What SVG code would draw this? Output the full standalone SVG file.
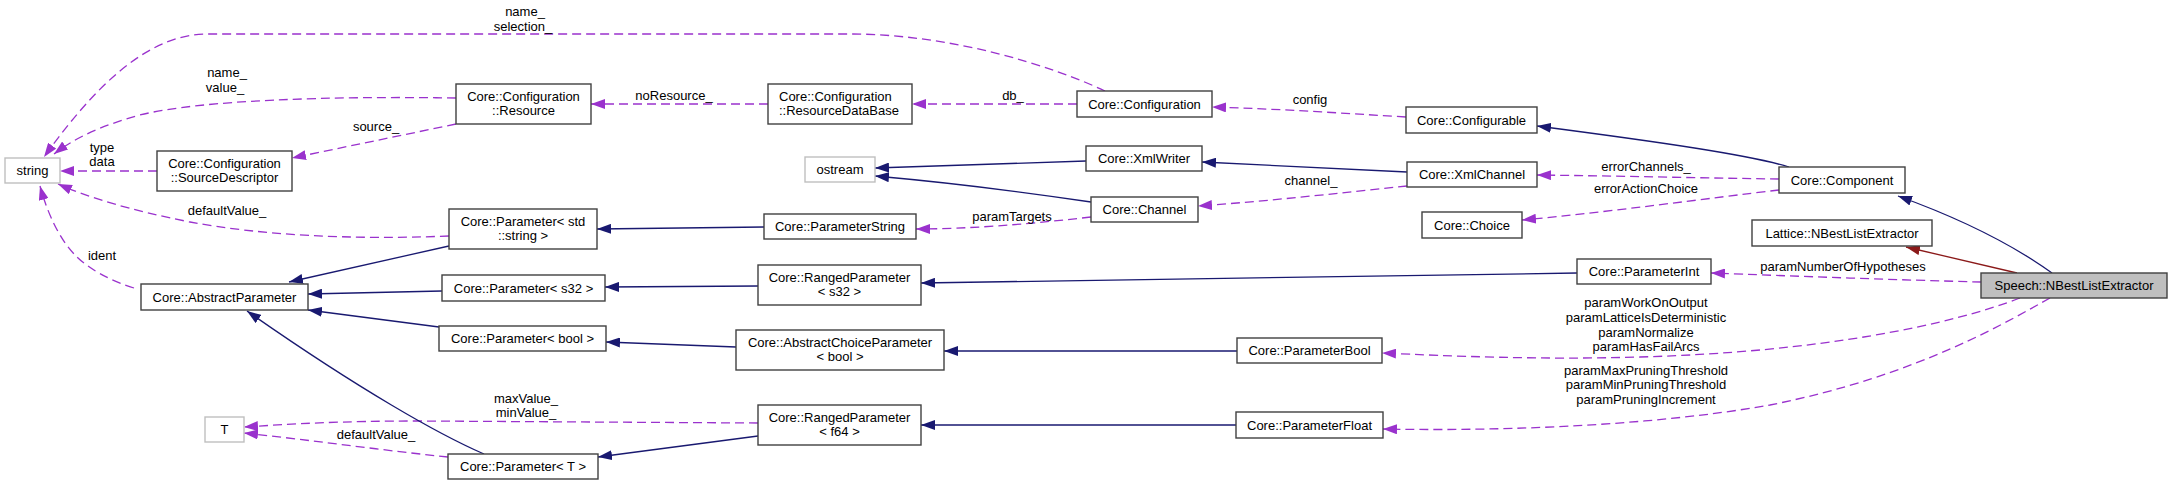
<svg xmlns="http://www.w3.org/2000/svg" width="2172" height="485" viewBox="0 0 2172 485">
<style>
text{font-family:"Liberation Sans",Arial,sans-serif;font-size:13px;fill:#000;text-anchor:middle}
.n rect{fill:#fff;stroke:#404040;stroke-width:1.4}
.g rect{fill:#fff;stroke:#bfbfbf;stroke-width:1.4}
.s rect{fill:#bfbfbf;stroke:#404040;stroke-width:1.4}
.u{fill:none;stroke:#9a32cd;stroke-width:1.3;stroke-dasharray:9,5;marker-end:url(#ap)}
.i{fill:none;stroke:#191970;stroke-width:1.3;marker-end:url(#ab)}
.r{fill:none;stroke:#8b1a1a;stroke-width:1.3;marker-end:url(#ar)}
</style>
<defs>
<marker id="ap" markerUnits="userSpaceOnUse" viewBox="0 0 14 10" refX="14" refY="5" markerWidth="14" markerHeight="10" orient="auto"><path d="M0,0L14,5L0,10z" fill="#9a32cd"/></marker>
<marker id="ab" markerUnits="userSpaceOnUse" viewBox="0 0 14 10" refX="14" refY="5" markerWidth="14" markerHeight="10" orient="auto"><path d="M0,0L14,5L0,10z" fill="#191970"/></marker>
<marker id="ar" markerUnits="userSpaceOnUse" viewBox="0 0 14 10" refX="14" refY="5" markerWidth="14" markerHeight="10" orient="auto"><path d="M0,0L14,5L0,10z" fill="#8b1a1a"/></marker>
</defs>
<rect width="2172" height="485" fill="#fff"/>
<g id="connectors">
<path class="u" d="M1105,91 C1050,65 950,34 850,34 L204,34 C140,36 85,100 44,157"/>
<path class="u" d="M456,98 C330,96 200,100 140,115 C100,126 75,138 54,154"/>
<path class="u" d="M456,124 L292,158"/>
<path class="u" d="M157,171 L60,171"/>
<path class="u" d="M449,236 C350,240 260,235 190,222 C130,210 90,198 58,184"/>
<path class="u" d="M134,288 C108,280 88,268 76,256 C60,240 48,215 40,186"/>
<path class="u" d="M768,104 L591,104"/>
<path class="u" d="M1077,104 L912,104"/>
<path class="u" d="M1406,117 C1340,113 1280,109 1212,107"/>
<path class="u" d="M1407,186 C1340,193 1270,201 1198,206"/>
<path class="u" d="M1091,217 C1030,224 970,229 916,229"/>
<path class="u" d="M1779,179 C1700,178 1620,176 1537,175"/>
<path class="u" d="M1779,190 C1710,198 1610,212 1522,220"/>
<path class="u" d="M1981,282 C1900,280 1790,276 1711,273"/>
<path class="u" d="M2020,298 C1950,325 1820,352 1640,357 C1540,360 1450,356 1382,353"/>
<path class="u" d="M2050,298 C2010,320 1920,375 1770,405 C1640,428 1480,431 1383,429"/>
<path class="u" d="M758,423 L420,421 C340,421 290,424 244,427"/>
<path class="u" d="M448,457 C380,450 310,440 244,433"/>
<path class="i" d="M449,246 L289,282"/>
<path class="i" d="M442,291 L308,294"/>
<path class="i" d="M439,327 L308,310"/>
<path class="i" d="M484,454 C440,435 360,390 247,311"/>
<path class="i" d="M764,227 L597,229"/>
<path class="i" d="M758,286 L605,287"/>
<path class="i" d="M736,347 L606,342"/>
<path class="i" d="M758,436 L598,457"/>
<path class="i" d="M1086,161 L875,168"/>
<path class="i" d="M1091,202 C1010,190 920,180 875,176"/>
<path class="i" d="M1407,172 L1202,162"/>
<path class="i" d="M1789,167 C1750,155 1660,142 1537,126"/>
<path class="i" d="M1577,273 L921,283"/>
<path class="i" d="M1237,351 L944,351"/>
<path class="i" d="M1236,425 L921,425"/>
<path class="i" d="M2052,273 C2020,250 1970,222 1898,196"/>
<path class="r" d="M2017,273 L1906,247"/>
<text x="525" y="16">name_</text>
<text x="523" y="31">selection_</text>
<text x="227" y="77">name_</text>
<text x="225" y="92">value_</text>
<text x="376" y="131">source_</text>
<text x="102" y="152">type</text>
<text x="102" y="166">data</text>
<text x="227" y="215">defaultValue_</text>
<text x="102" y="260">ident</text>
<text x="674" y="100">noResource_</text>
<text x="1013" y="100">db_</text>
<text x="1310" y="104">config</text>
<text x="1311" y="185">channel_</text>
<text x="1012" y="221">paramTargets</text>
<text x="1646" y="171">errorChannels_</text>
<text x="1646" y="193">errorActionChoice</text>
<text x="1843" y="271">paramNumberOfHypotheses</text>
<text x="1646" y="307">paramWorkOnOutput</text>
<text x="1646" y="322">paramLatticeIsDeterministic</text>
<text x="1646" y="337">paramNormalize</text>
<text x="1646" y="351">paramHasFailArcs</text>
<text x="1646" y="375">paramMaxPruningThreshold</text>
<text x="1646" y="389">paramMinPruningThreshold</text>
<text x="1646" y="404">paramPruningIncrement</text>
<text x="526" y="403">maxValue_</text>
<text x="526" y="417">minValue_</text>
<text x="376" y="439">defaultValue_</text>
</g>
<g id="n_string" class="g"><rect x="5" y="158" width="55" height="25"/><text x="32.5" y="175">string</text></g>
<g id="n_sourcedesc" class="n"><rect x="157" y="151" width="135" height="40"/><text x="224.5" y="168">Core::Configuration</text><text x="224.5" y="182">::SourceDescriptor</text></g>
<g id="n_resource" class="n"><rect x="456" y="84" width="135" height="40"/><text x="523.5" y="101">Core::Configuration</text><text x="523.5" y="115">::Resource</text></g>
<g id="n_paramstring" class="n"><rect x="449" y="209" width="148" height="40"/><text x="523" y="226">Core::Parameter&lt; std</text><text x="523" y="240">::string &gt;</text></g>
<g id="n_abstractparam" class="n"><rect x="141" y="284" width="167" height="26"/><text x="224.5" y="301.5">Core::AbstractParameter</text></g>
<g id="n_params32" class="n"><rect x="442" y="275" width="163" height="26"/><text x="523.5" y="292.5">Core::Parameter&lt; s32 &gt;</text></g>
<g id="n_parambool" class="n"><rect x="439" y="326" width="167" height="25"/><text x="522.5" y="343">Core::Parameter&lt; bool &gt;</text></g>
<g id="n_paramT" class="n"><rect x="448" y="454" width="150" height="25"/><text x="523" y="471">Core::Parameter&lt; T &gt;</text></g>
<g id="n_T" class="g"><rect x="205" y="417" width="39" height="25"/><text x="224.5" y="434">T</text></g>
<g id="n_resdb" class="n"><rect x="768" y="84" width="144" height="40"/><text x="779" y="101" style="text-anchor:start">Core::Configuration</text><text x="779" y="115" style="text-anchor:start">::ResourceDataBase</text></g>
<g id="n_ostream" class="g"><rect x="805" y="157" width="70" height="25"/><text x="840" y="174">ostream</text></g>
<g id="n_pstring" class="n"><rect x="764" y="214" width="152" height="25"/><text x="840" y="231">Core::ParameterString</text></g>
<g id="n_ranged32" class="n"><rect x="758" y="265" width="163" height="40"/><text x="839.5" y="282">Core::RangedParameter</text><text x="839.5" y="296">&lt; s32 &gt;</text></g>
<g id="n_choicebool" class="n"><rect x="736" y="330" width="208" height="40"/><text x="840" y="347">Core::AbstractChoiceParameter</text><text x="840" y="361">&lt; bool &gt;</text></g>
<g id="n_rangedf64" class="n"><rect x="758" y="405" width="163" height="40"/><text x="839.5" y="422">Core::RangedParameter</text><text x="839.5" y="436">&lt; f64 &gt;</text></g>
<g id="n_configuration" class="n"><rect x="1077" y="91" width="135" height="26"/><text x="1144.5" y="108.5">Core::Configuration</text></g>
<g id="n_configurable" class="n"><rect x="1406" y="107" width="131" height="26"/><text x="1471.5" y="124.5">Core::Configurable</text></g>
<g id="n_xmlwriter" class="n"><rect x="1086" y="146" width="116" height="25"/><text x="1144" y="163">Core::XmlWriter</text></g>
<g id="n_channel" class="n"><rect x="1091" y="197" width="107" height="25"/><text x="1144.5" y="214">Core::Channel</text></g>
<g id="n_xmlchannel" class="n"><rect x="1407" y="162" width="130" height="25"/><text x="1472" y="179">Core::XmlChannel</text></g>
<g id="n_choice" class="n"><rect x="1422" y="212" width="100" height="26"/><text x="1472" y="229.5">Core::Choice</text></g>
<g id="n_paramint" class="n"><rect x="1577" y="259" width="134" height="25"/><text x="1644" y="276">Core::ParameterInt</text></g>
<g id="n_parambool2" class="n"><rect x="1237" y="338" width="145" height="25"/><text x="1309.5" y="355">Core::ParameterBool</text></g>
<g id="n_paramfloat" class="n"><rect x="1236" y="412" width="147" height="26"/><text x="1309.5" y="429.5">Core::ParameterFloat</text></g>
<g id="n_component" class="n"><rect x="1779" y="167" width="126" height="26"/><text x="1842" y="184.5">Core::Component</text></g>
<g id="n_lattice" class="n"><rect x="1752" y="220" width="180" height="26"/><text x="1842" y="237.5">Lattice::NBestListExtractor</text></g>
<g id="n_speech" class="s"><rect x="1981" y="273" width="186" height="25"/><text x="2074" y="290">Speech::NBestListExtractor</text></g>
</svg>
